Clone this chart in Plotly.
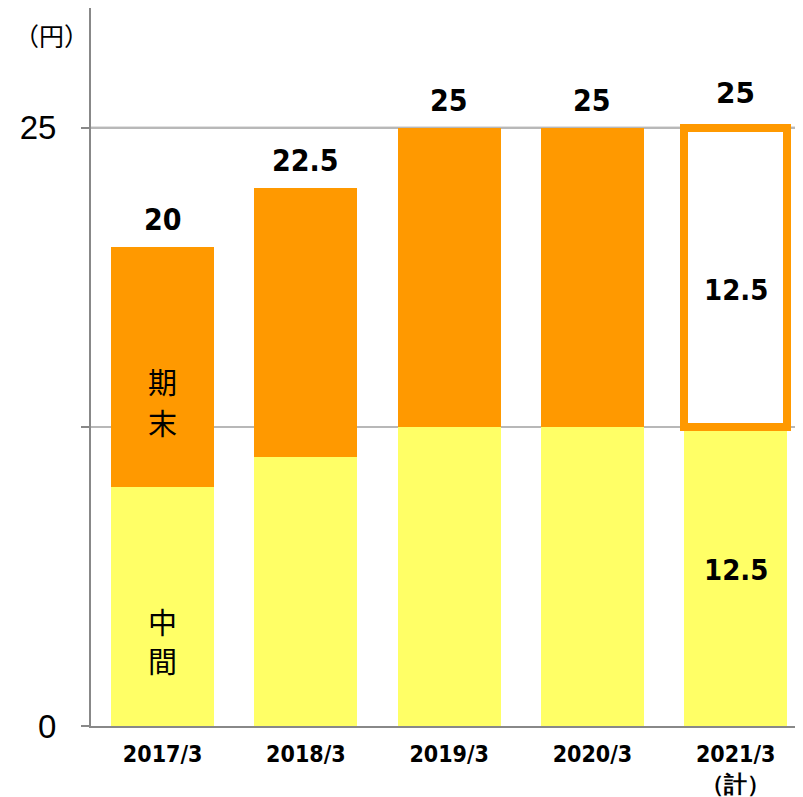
import plotly.graph_objects as go

categories = ["2017/3", "2018/3", "2019/3", "2020/3", "2021/3<br>（計）"]
interim = [10, 11.25, 12.5, 12.5, 12.5]
year_end = [10, 11.25, 12.5, 12.5, 12.5]
totals = [20, 22.5, 25, 25, 25]
y_ticks = [0, 12.5, 25]
y_ticktext = ["0", "", "25"]

ORANGE = "#FF9900"
YELLOW = "#FFFF66"
GRAY = "#888888"
LIGHT = "#b8b8b8"
NARROW = "DejaVu Sans Condensed, Liberation Sans, Arial"

end_colors = [ORANGE, ORANGE, ORANGE, ORANGE, "#FFFFFF"]
end_line_w = [0, 0, 0, 0, 8]

fig = go.Figure()
fig.add_trace(go.Bar(x=categories, y=interim, marker=dict(color=YELLOW, line=dict(width=0)),
                     hoverinfo="skip"))
fig.add_trace(go.Bar(x=categories, y=year_end,
                     marker=dict(color=end_colors, line=dict(width=end_line_w, color=ORANGE)),
                     hoverinfo="skip"))

ann = []
for i, (c, t) in enumerate(zip(categories, totals)):
    if i < 4:
        ann.append(dict(x=c, y=t, xref="x", yref="y", text=f"<b>{t:g}</b>", showarrow=False,
                        yanchor="bottom", yshift=8,
                        font=dict(family=NARROW, size=30, color="black")))
    else:
        ann.append(dict(x=c, y=t, xref="x", yref="y", text=f"<b>{t:g}</b>", showarrow=False,
                        yanchor="bottom", yshift=16,
                        font=dict(family="DejaVu Sans", size=28, color="black")))

# value labels inside 2021 bars
ann.append(dict(x=categories[4], y=interim[4] + year_end[4] / 2, xref="x", yref="y",
                text=f"<b>{year_end[4]:g}</b>", showarrow=False, yshift=-13,
                font=dict(family=NARROW, size=29, color="black")))
ann.append(dict(x=categories[4], y=interim[4] / 2, xref="x", yref="y",
                text=f"<b>{interim[4]:g}</b>", showarrow=False, yshift=6,
                font=dict(family=NARROW, size=29, color="black")))

# series labels in 2017 bar (one annotation per character)
cjk = dict(family="Noto Sans CJK JP", size=29, color="black")
ann.append(dict(x=categories[0], y=interim[0] + year_end[0] / 2, xref="x", yref="y",
                text="期", showarrow=False, yshift=-14, font=cjk))
ann.append(dict(x=categories[0], y=interim[0] + year_end[0] / 2, xref="x", yref="y",
                text="末", showarrow=False, yshift=-55, font=cjk))
ann.append(dict(x=categories[0], y=interim[0] / 2, xref="x", yref="y",
                text="中", showarrow=False, yshift=-15, font=cjk))
ann.append(dict(x=categories[0], y=interim[0] / 2, xref="x", yref="y",
                text="間", showarrow=False, yshift=-54, font=cjk))

# unit label
ann.append(dict(x=0, y=1, xref="paper", yref="paper", text="（円）", showarrow=False,
                xanchor="right", yanchor="middle", xshift=0, yshift=-27,
                font=dict(family="Noto Sans CJK JP", size=25, color="black")))

fig.update_layout(
    width=795, height=789,
    margin=dict(l=83, r=0, t=0, b=71, autoexpand=False),
    paper_bgcolor="white", plot_bgcolor="white",
    barmode="stack", bargap=0.28, showlegend=False,
    annotations=ann,
    shapes=[dict(type="line", xref="paper", yref="y", x0=0, x1=1, y0=y_ticks[2], y1=y_ticks[2],
                 line=dict(color=GRAY, width=2), layer="below")],
    xaxis=dict(range=[-0.5, 4.47], showgrid=False, showline=True, linecolor=GRAY, linewidth=2,
               ticks="", ticklabelstandoff=6, automargin=False,
               tickfont=dict(family=NARROW, size=23, color="black"),
               tickprefix="<b>", ticksuffix="</b>"),
    yaxis=dict(range=[0, 30], tickvals=y_ticks, ticktext=y_ticktext,
               showgrid=True, gridcolor=LIGHT, gridwidth=2,
               showline=True, linecolor=GRAY, linewidth=2,
               ticks="outside", ticklen=8, tickwidth=2, tickcolor=GRAY,
               ticklabelstandoff=18, automargin=False,
               tickfont=dict(family="Liberation Sans, Arial", size=33, color="black"),
               zeroline=False),
)

fig.write_html("out.html")
